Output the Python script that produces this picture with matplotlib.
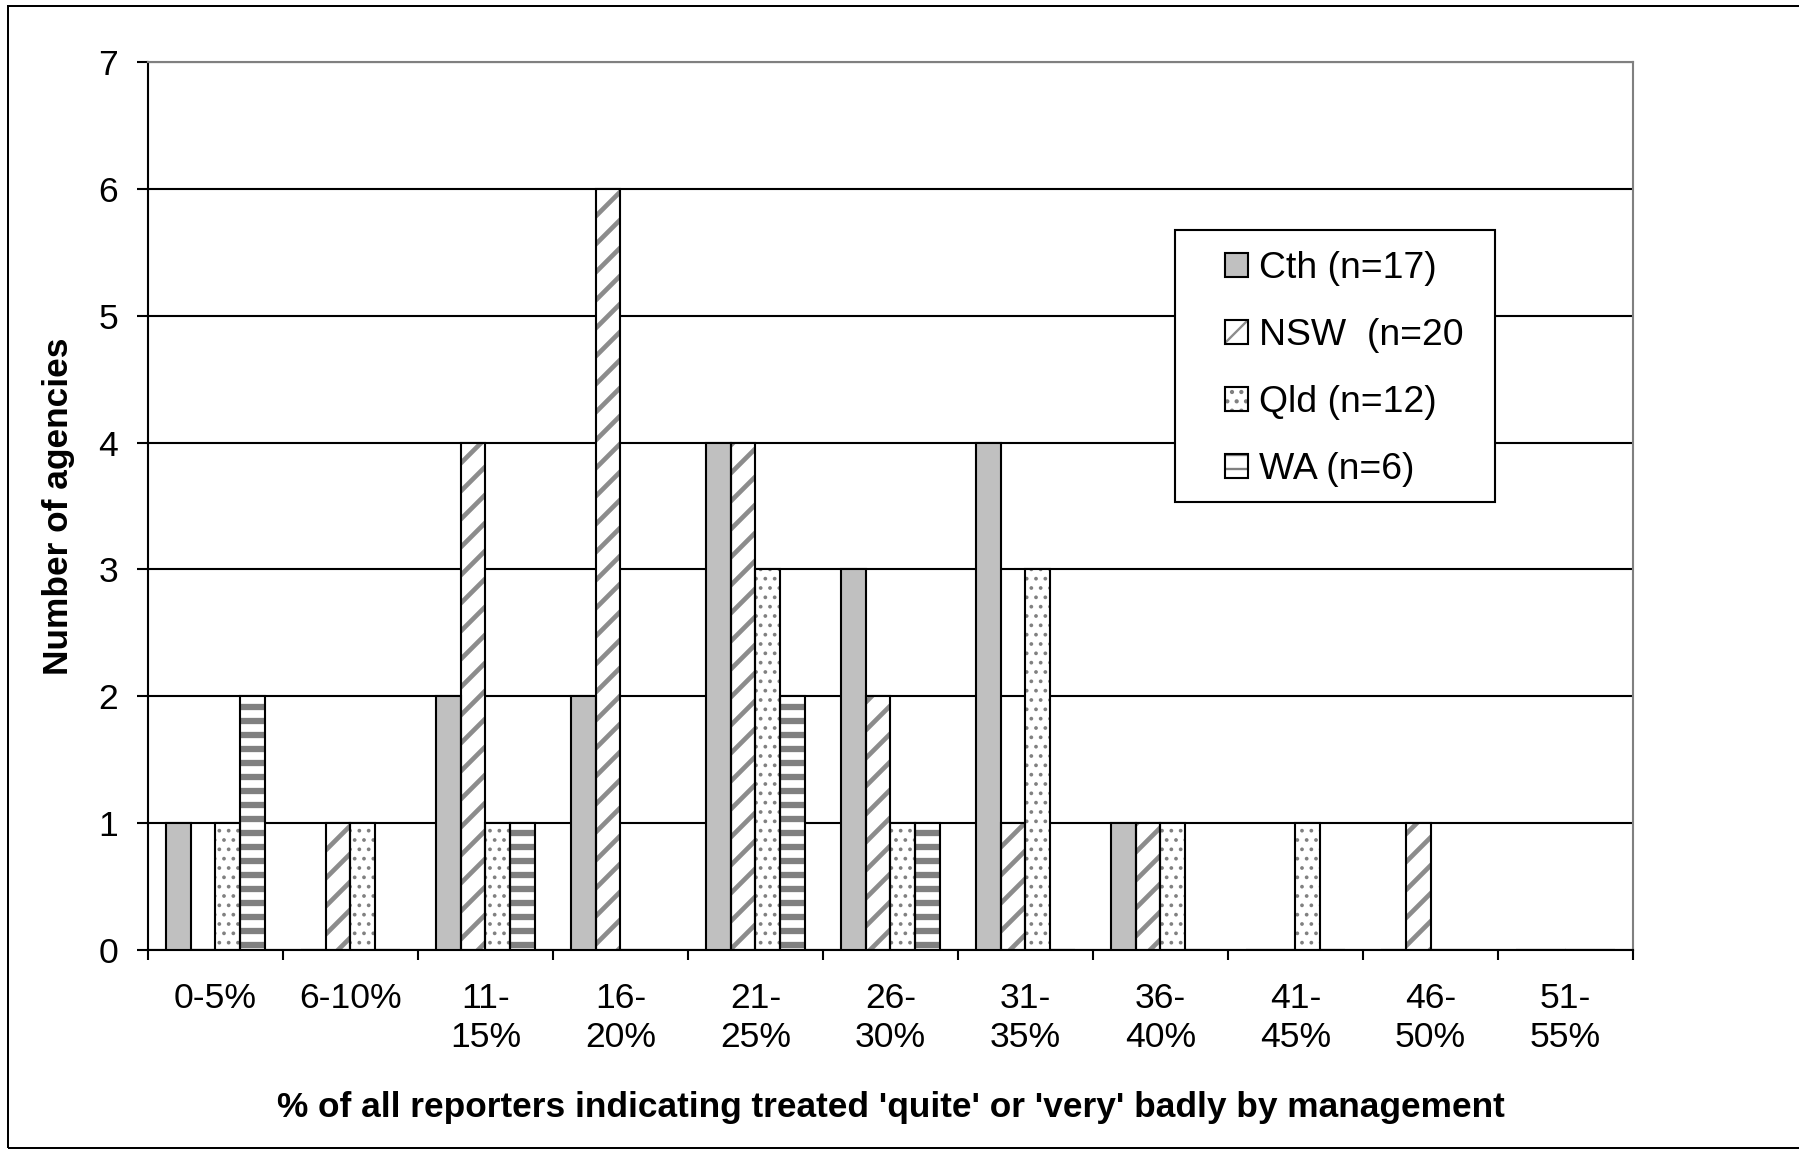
import matplotlib
matplotlib.use("Agg")
import matplotlib.pyplot as plt
from matplotlib.patches import Rectangle, Patch
from matplotlib.legend_handler import HandlerTuple
import numpy as np

plt.rcParams['font.family'] = ['Liberation Sans', 'DejaVu Sans']

categories = ["0-5%", "6-10%", "11-\n15%", "16-\n20%", "21-\n25%", "26-\n30%",
              "31-\n35%", "36-\n40%", "41-\n45%", "46-\n50%", "51-\n55%"]
series_names = ["Cth (n=17)", "NSW  (n=20", "Qld (n=12)", "WA (n=6)"]
cth = [1, 0, 2, 2, 4, 3, 4, 1, 0, 0, 0]
nsw = [0, 1, 4, 6, 4, 2, 1, 1, 0, 1, 0]
qld = [1, 1, 1, 0, 3, 1, 3, 1, 1, 0, 0]
wa = [2, 0, 1, 0, 2, 1, 0, 0, 0, 0, 0]
y_ticks = [0, 1, 2, 3, 4, 5, 6, 7]
x_title = "% of all reporters indicating treated 'quite' or 'very' badly by management"
y_title = "Number of agencies"

DPI = 168
W, H = 1800, 1151
FS = 15.2
FS_TITLE = 15.1
FS_LEG = 16.0
LW = 0.9

fig = plt.figure(figsize=(W / DPI, H / DPI), dpi=DPI)
fig.patch.set_facecolor('white')
ax = fig.add_axes([148 / W, 1 - 950 / H, (1633 - 148) / W, (950 - 62) / H])

x = np.arange(len(categories))
bw = 0.185
offsets = [-1.5, -0.5, 0.5, 1.5]
styles = [
    dict(face='#c0c0c0', hatch=None, hcolor=None, hlw=None),
    dict(face='white', hatch='//', hcolor='#8c8c8c', hlw=2.0),
    dict(face='white', hatch='...', hcolor='#808080', hlw=0.8),
    dict(face='white', hatch='--', hcolor='#808080', hlw=2.7),
]
data = [cth, nsw, qld, wa]

handles = []
for vals, off, st in zip(data, offsets, styles):
    pos = x + off * bw
    if st['hatch'] is None:
        ax.bar(pos, vals, bw, color=st['face'], edgecolor='black', linewidth=LW, zorder=3)
        handles.append(Patch(facecolor=st['face'], edgecolor='black', linewidth=LW))
    else:
        with plt.rc_context({'hatch.linewidth': st['hlw']}):
            bars = ax.bar(pos, vals, bw, color=st['face'], edgecolor=st['hcolor'],
                          hatch=st['hatch'], linewidth=0, zorder=2)
            for b in bars:
                if hasattr(b, 'set_hatch_linewidth'):
                    b.set_hatch_linewidth(st['hlw'])
            ax.bar(pos, vals, bw, fill=False, edgecolor='black', linewidth=LW, zorder=3)
            hp = Patch(facecolor=st['face'], edgecolor=st['hcolor'], hatch=st['hatch'], linewidth=0)
            if hasattr(hp, 'set_hatch_linewidth'):
                hp.set_hatch_linewidth(st['hlw'])
        he = Patch(fill=False, edgecolor='black', linewidth=LW)
        handles.append((hp, he))

ax.set_xlim(-0.5, len(categories) - 0.5)
ax.set_ylim(0, 7)
ax.set_yticks(y_ticks)
ax.set_axisbelow(True)
ax.yaxis.grid(True, color='black', linewidth=LW)
ax.xaxis.grid(False)

ax.set_xticks(x)
ax.set_xticklabels(categories, fontsize=FS, linespacing=1.24)
ax.set_xticks(np.arange(-0.5, len(categories)), minor=True)
ax.tick_params(axis='x', which='major', length=0, pad=13.5)
ax.tick_params(axis='x', which='minor', direction='out', length=4.3, width=LW)
ax.tick_params(axis='y', direction='out', length=4.7, width=LW, pad=8, labelsize=FS)

for s in ['left', 'bottom']:
    ax.spines[s].set_color('black')
    ax.spines[s].set_linewidth(LW)
for s in ['top', 'right']:
    ax.spines[s].set_color('#808080')
    ax.spines[s].set_linewidth(LW)

ax.set_ylabel(y_title, fontsize=FS_TITLE, fontweight='bold')
ax.yaxis.set_label_coords(-0.060, 0.5)
ax.yaxis.label.set_va('center')
ax.set_xlabel(x_title, fontsize=FS_TITLE, fontweight='bold')
ax.xaxis.set_label_coords(0.5, -0.188)
ax.xaxis.label.set_va('baseline')

# legend frame
frame = Rectangle((1175 / W, 1 - 502 / H), 320 / W, 272 / H, transform=fig.transFigure,
                  facecolor='white', edgecolor='black', linewidth=LW, zorder=4, clip_on=False)
ax.add_patch(frame)
leg = ax.legend(handles, series_names, loc='upper left',
                bbox_to_anchor=(1225 / W, 1 - 251 / H), bbox_transform=fig.transFigure,
                frameon=False, fontsize=FS_LEG, borderpad=0, borderaxespad=0,
                handlelength=0.62, handleheight=0.62, handletextpad=0.3,
                labelspacing=0.86,
                handler_map={tuple: HandlerTuple(ndivide=1, pad=0)})
leg.set_zorder(5)

# figure border
border = Rectangle((8 / W, 1 - 1148 / H), 1.01, (1148 - 6) / H, transform=fig.transFigure,
                   fill=False, edgecolor='black', linewidth=0.86)
fig.add_artist(border)

fig.savefig('out.png', dpi=DPI)
